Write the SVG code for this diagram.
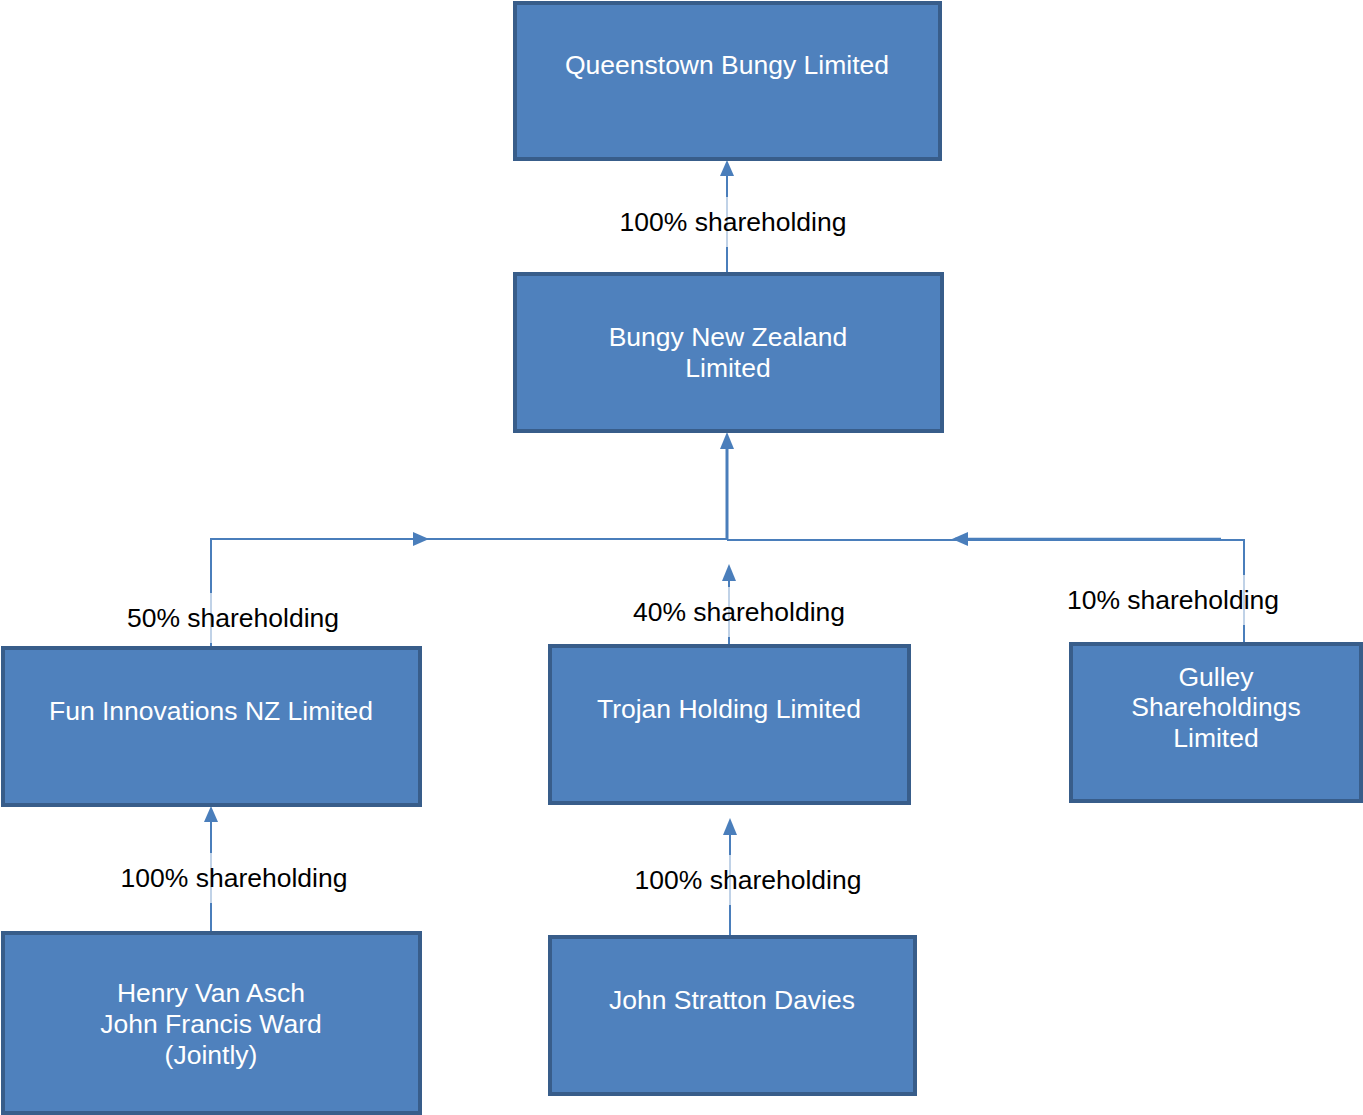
<svg xmlns="http://www.w3.org/2000/svg" width="1363" height="1115" viewBox="0 0 1363 1115">
<defs>
<style>
.box{fill:#4f81bd;stroke:#385d8a;stroke-width:4}
.bt{fill:#ffffff;font-family:"Liberation Sans",Arial,sans-serif;font-size:26.5px;text-anchor:middle}
.lb{fill:#000000;font-family:"Liberation Sans",Arial,sans-serif;font-size:26.5px;text-anchor:middle}
.ln{fill:none;stroke:#4a7ebb;stroke-width:2}
.fade{fill:#ffffff;opacity:0.65}
.ah{fill:#4a7ebb}
</style>
</defs>
<g id="connectors">
<line class="ln" x1="727" y1="273" x2="727" y2="170"/>
<polygon class="ah" points="727,160 720,176 734,176"/>
<line class="ln" x1="727" y1="540" x2="727" y2="442" style="stroke-width:3"/>
<polygon class="ah" points="727,432 720,449 734,449"/>
<polyline class="ln" points="211,647 211,539 727,539"/>
<polygon class="ah" points="429,539 413,532 413,546"/>
<polyline class="ln" points="727,540 1244,540 1244,643"/>
<line class="ln" x1="955" y1="539" x2="1221" y2="539" style="stroke-width:2.5"/>
<polygon class="ah" points="952,539 968,532 968,546"/>
<line class="ln" x1="729" y1="645" x2="729" y2="575"/>
<polygon class="ah" points="729,564 722,581 736,581"/>
<line class="ln" x1="211" y1="932" x2="211" y2="815"/>
<polygon class="ah" points="211,806 204,822 218,822"/>
<line class="ln" x1="730" y1="936" x2="730" y2="828"/>
<polygon class="ah" points="730,818 723,835 737,835"/>
<rect class="fade" x="600" y="197" width="260" height="50"/>
<rect class="fade" x="110" y="593" width="250" height="50"/>
<rect class="fade" x="620" y="587" width="240" height="50"/>
<rect class="fade" x="1050" y="575" width="245" height="50"/>
<rect class="fade" x="110" y="853" width="250" height="50"/>
<rect class="fade" x="620" y="855" width="255" height="50"/>
<text class="lb" x="733" y="231">100% shareholding</text>
<text class="lb" x="233" y="627">50% shareholding</text>
<text class="lb" x="739" y="621">40% shareholding</text>
<text class="lb" x="1173" y="609">10% shareholding</text>
<text class="lb" x="234" y="887">100% shareholding</text>
<text class="lb" x="748" y="889">100% shareholding</text>
</g>
<g id="queenstown">
<rect class="box" x="515" y="3" width="425" height="156"/>
<text class="bt" x="727" y="74">Queenstown Bungy Limited</text>
</g>
<g id="bungy-nz">
<rect class="box" x="515" y="274" width="427" height="157"/>
<text class="bt" x="728" y="346">Bungy New Zealand</text>
<text class="bt" x="728" y="377">Limited</text>
</g>
<g id="fun-innovations">
<rect class="box" x="3" y="648" width="417" height="157"/>
<text class="bt" x="211" y="720">Fun Innovations NZ Limited</text>
</g>
<g id="trojan">
<rect class="box" x="550" y="646" width="359" height="157"/>
<text class="bt" x="729" y="718">Trojan Holding Limited</text>
</g>
<g id="gulley">
<rect class="box" x="1071" y="644" width="290" height="157"/>
<text class="bt" x="1216" y="686">Gulley</text>
<text class="bt" x="1216" y="716">Shareholdings</text>
<text class="bt" x="1216" y="747">Limited</text>
</g>
<g id="henry-john">
<rect class="box" x="3" y="933" width="417" height="180"/>
<text class="bt" x="211" y="1002">Henry Van Asch</text>
<text class="bt" x="211" y="1033">John Francis Ward</text>
<text class="bt" x="211" y="1064">(Jointly)</text>
</g>
<g id="john-stratton">
<rect class="box" x="550" y="937" width="365" height="157"/>
<text class="bt" x="732" y="1009">John Stratton Davies</text>
</g>
</svg>
